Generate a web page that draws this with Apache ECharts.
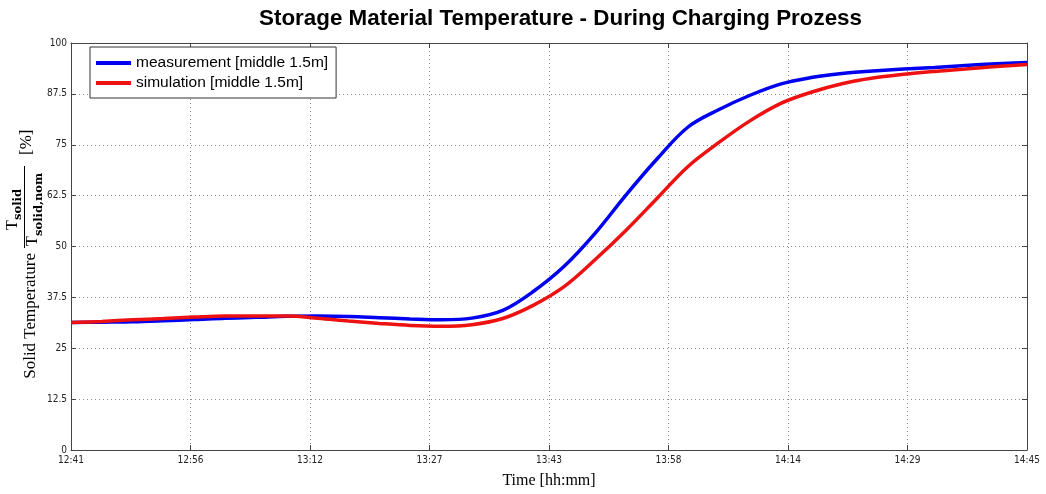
<!DOCTYPE html>
<html>
<head>
<meta charset="utf-8">
<script src="https://cdn.jsdelivr.net/npm/echarts@6/dist/echarts.min.js"></script>
<style>
html,body{margin:0;padding:0;background:#fff;overflow:hidden;}
#chart{width:1046px;height:494px;}
</style>
</head>
<body>
<div id="chart"></div>
<script>
// time in minutes after 12:41
const timeMin = [0,4,8,12,16,20,24,28,32,36,40,44,48,52,56,60,64,68,72,76,80,84,88,92,96,100,104,108,112,116,120,124];
const measurement = [31.3,31.4,31.5,31.75,32.05,32.4,32.6,32.85,32.9,32.8,32.5,32.2,32.0,32.4,34.3,39.0,45.2,53.3,62.7,71.5,79.3,83.6,87.1,89.9,91.5,92.5,93.1,93.6,94.0,94.5,94.9,95.2];
const simulation = [31.3,31.6,32.0,32.3,32.65,32.9,32.9,32.9,32.4,31.7,31.1,30.6,30.4,30.8,32.3,35.6,40.2,46.8,54.0,61.8,69.6,75.5,80.8,85.1,87.9,90.0,91.4,92.3,93.0,93.6,94.2,94.7];
const xTickLabels = ['12:41','12:56','13:12','13:27','13:43','13:58','14:14','14:29','14:45'];
const yTickLabels = ['0','12.5','25','37.5','50','62.5','75','87.5','100'];
const seriesNames = ['measurement [middle 1.5m]','simulation [middle 1.5m]'];
const titleText = 'Storage Material Temperature - During Charging Prozess';

const chart = echarts.init(document.getElementById('chart'));
const tickFont = "'Liberation Sans Narrow','DejaVu Sans Condensed','Liberation Sans',sans-serif";
const axisColor = '#444';
const gridStyle = {type:[1,3], color:'#8a8a8a', width:1};

function mirrorX(){
  return {type:'value', position:'top', min:0, max:124, interval:15.5,
    axisLine:{show:true,onZero:false,lineStyle:{color:axisColor}},
    axisTick:{show:true,inside:true,length:5,lineStyle:{color:axisColor}},
    axisLabel:{show:false}, splitLine:{show:false}};
}
function mirrorY(){
  return {type:'value', position:'right', min:0, max:100, interval:12.5,
    axisLine:{show:true,onZero:false,lineStyle:{color:axisColor}},
    axisTick:{show:true,inside:true,length:5,lineStyle:{color:axisColor}},
    axisLabel:{show:false}, splitLine:{show:false}};
}

const option = {
  animation:false,
  backgroundColor:'#fff',
  title:{text:titleText, left:259, top:6, padding:0,
    textStyle:{fontFamily:'Liberation Sans', fontWeight:'bold', fontSize:22.4, color:'#000', lineHeight:26}},
  legend:{orient:'vertical', left:90, top:47, padding:[6,8,5,6], itemGap:0,
    itemWidth:35, itemHeight:4, icon:'rect',
    borderColor:'#333', borderWidth:1, backgroundColor:'#fff',
    textStyle:{fontFamily:'Liberation Sans', fontSize:15.5, color:'#000', lineHeight:20},
    data:seriesNames},
  grid:{left:71, width:956, top:43, height:414},
  xAxis:[{
    type:'value', min:0, max:124, interval:15.5,
    axisLine:{show:true,onZero:false,lineStyle:{color:axisColor}},
    axisTick:{show:true,inside:true,length:5,lineStyle:{color:axisColor}},
    axisLabel:{fontFamily:tickFont, fontSize:10, color:'#222', margin:5,
      showMinLabel:true, showMaxLabel:true,
      formatter:function(v){return xTickLabels[Math.round(v/15.5)];}},
    splitLine:{show:true,lineStyle:gridStyle},
    name:'Time [hh:mm]', nameLocation:'middle', nameGap:23,
    nameTextStyle:{fontFamily:'Liberation Serif', fontSize:16, color:'#000'}
  }, mirrorX()],
  yAxis:[{
    type:'value', min:0, max:100, interval:12.5,
    axisLine:{show:true,onZero:false,lineStyle:{color:axisColor}},
    axisTick:{show:true,inside:true,length:5,lineStyle:{color:axisColor}},
    axisLabel:{fontFamily:tickFont, fontSize:10, color:'#222', margin:4,
      formatter:function(v){return yTickLabels[Math.round(v/12.5)];}},
    splitLine:{show:true,lineStyle:gridStyle}
  }, mirrorY()],
  graphic:[{
    type:'group', x:0, y:250, rotation:Math.PI/2, silent:true,
    children:[
      {type:'text', x:-3, y:31, style:{text:'Solid Temperature', font:'17px "Liberation Serif"', fill:'#000', align:'right', textAlign:'right', verticalAlign:'middle', textVerticalAlign:'middle'}},
      {type:'text', x:20, y:12.5, style:{text:'T', font:'16px "Liberation Serif"', fill:'#000', align:'left', textAlign:'left', verticalAlign:'middle', textVerticalAlign:'middle'}},
      {type:'text', x:30, y:18.5, style:{text:'solid', font:'bold 11.5px "DejaVu Serif"', fill:'#000', align:'left', textAlign:'left', verticalAlign:'middle', textVerticalAlign:'middle'}},
      {type:'rect', shape:{x:2, y:24, width:82, height:1}, style:{fill:'#000'}},
      {type:'text', x:4, y:32.5, style:{text:'T', font:'16px "Liberation Serif"', fill:'#000', align:'left', textAlign:'left', verticalAlign:'middle', textVerticalAlign:'middle'}},
      {type:'text', x:14, y:39, style:{text:'solid,nom', font:'bold 11.5px "DejaVu Serif"', fill:'#000', align:'left', textAlign:'left', verticalAlign:'middle', textVerticalAlign:'middle'}},
      {type:'text', x:95, y:27, style:{text:'[%]', font:'17px "Liberation Serif"', fill:'#000', align:'left', textAlign:'left', verticalAlign:'middle', textVerticalAlign:'middle'}}
    ]
  }],
  series:[
    {name:seriesNames[0], type:'line', xAxisIndex:0, yAxisIndex:0, showSymbol:false, smooth:0.35,
      lineStyle:{width:3.5, color:'#0000f0'}, itemStyle:{color:'#0000f0'},
      data:timeMin.map(function(t,i){return [t, measurement[i]];})},
    {name:seriesNames[1], type:'line', xAxisIndex:0, yAxisIndex:0, showSymbol:false, smooth:0.35,
      lineStyle:{width:3.5, color:'#ee1111'}, itemStyle:{color:'#ee1111'},
      data:timeMin.map(function(t,i){return [t, simulation[i]];})}
  ]
};
chart.setOption(option);
</script>
</body>
</html>
